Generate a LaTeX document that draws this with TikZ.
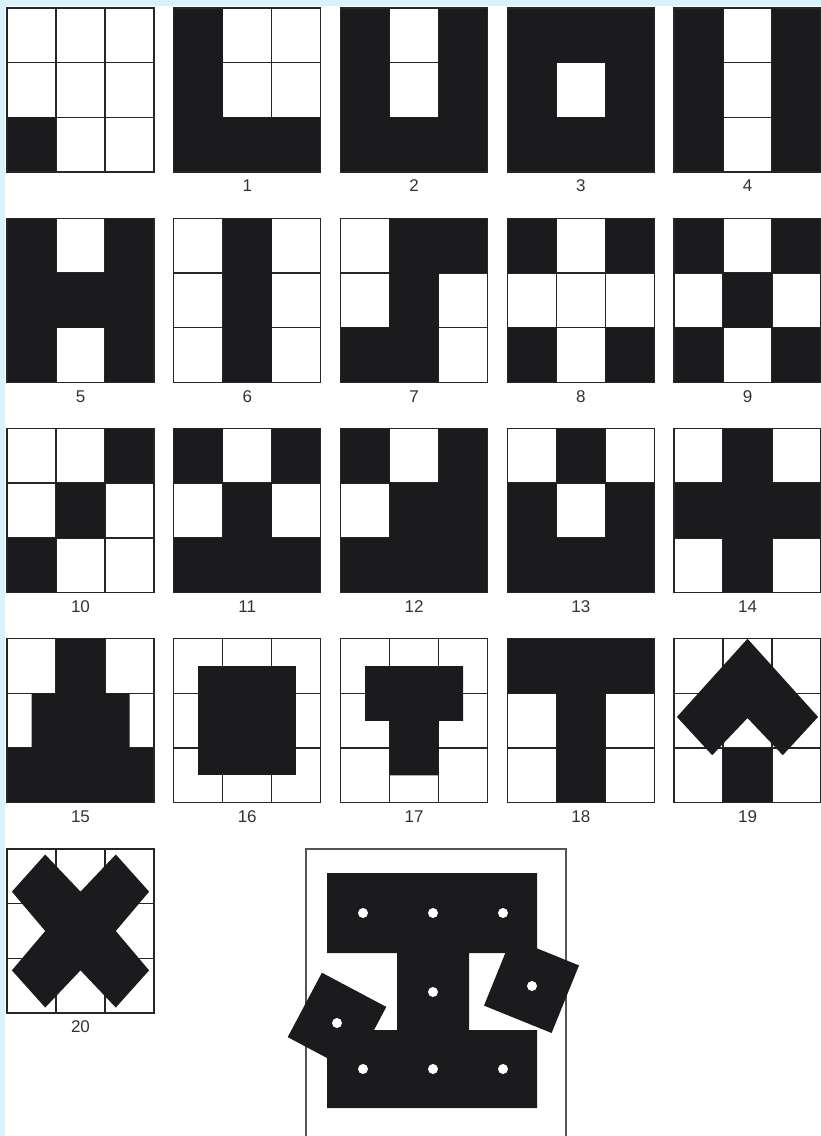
\documentclass[tikz,border=0pt]{standalone}
\usepackage{fontspec}
\setmainfont{Liberation Sans}
\definecolor{bgblue}{HTML}{DAF2F9}
\definecolor{blk}{HTML}{1B1A1C}
\definecolor{gline}{HTML}{262626}
\definecolor{labc}{HTML}{333333}
\definecolor{framec}{HTML}{555555}
\tikzset{
 gridl/.style={draw=gline, line width=1.4pt},
 blkfill/.style={fill=blk},
 lbl/.style={text=labc, font=\fontsize{17}{17}\selectfont, inner sep=0pt},
 framel/.style={draw=framec, line width=1.5pt},
 hole/.style={fill=white}
}
\newcommand{\tile}[4]{%
 \begin{scope}[shift={(#1,#2)}, x=49pt, y=-54.67pt]
 \fill[white] (0,0) rectangle (3,3);
 \foreach \k in {1,2}{\draw[gridl] (\k,0) -- (\k,3); \draw[gridl] (0,\k) -- (3,\k);}
 #4
 \draw[gridl] (0,0) rectangle (3,3);
 \coordinate (#3) at (1.5,3);
 \end{scope}}
\begin{document}
\begin{tikzpicture}[x=1pt,y=-1pt]
\useasboundingbox (0,0) rectangle (821,1136);
\fill[white] (0,0) rectangle (821,1136);
\fill[bgblue] (0,0) rectangle (821,6);
\fill[bgblue] (0,0) rectangle (5,1136);
% row 1
\tile{7}{8}{t0}{\fill[blkfill] (0,2) rectangle (1,3);}
\tile{173.75}{8}{t1}{\fill[blkfill] (0,0) rectangle (1,3) (1,2) rectangle (3,3);}
\tile{340.5}{8}{t2}{\fill[blkfill] (0,0) rectangle (1,3) (2,0) rectangle (3,3) (1,2) rectangle (2,3);}
\tile{507.25}{8}{t3}{\fill[blkfill, even odd rule] (0,0) rectangle (3,3) (1,1) rectangle (2,2);}
\tile{674}{8}{t4}{\fill[blkfill] (0,0) rectangle (1,3) (2,0) rectangle (3,3);}
% row 2
\tile{7}{218.25}{t5}{\fill[blkfill] (0,0) rectangle (1,3) (2,0) rectangle (3,3) (1,1) rectangle (2,2);}
\tile{173.75}{218.25}{t6}{\fill[blkfill] (1,0) rectangle (2,3);}
\tile{340.5}{218.25}{t7}{\fill[blkfill] (1,0) rectangle (3,1) (1,1) rectangle (2,2) (0,2) rectangle (2,3);}
\tile{507.25}{218.25}{t8}{\fill[blkfill] (0,0) rectangle (1,1) (2,0) rectangle (3,1) (0,2) rectangle (1,3) (2,2) rectangle (3,3);}
\tile{674}{218.25}{t9}{\fill[blkfill] (0,0) rectangle (1,1) (2,0) rectangle (3,1) (0,2) rectangle (1,3) (2,2) rectangle (3,3) (1,1) rectangle (2,2);}
% row 3
\tile{7}{428.5}{t10}{\fill[blkfill] (2,0) rectangle (3,1) (1,1) rectangle (2,2) (0,2) rectangle (1,3);}
\tile{173.75}{428.5}{t11}{\fill[blkfill] (0,0) rectangle (1,1) (2,0) rectangle (3,1) (1,1) rectangle (2,2) (0,2) rectangle (3,3);}
\tile{340.5}{428.5}{t12}{\fill[blkfill] (0,0) rectangle (1,1) (2,0) rectangle (3,3) (1,1) rectangle (2,3) (0,2) rectangle (1,3);}
\tile{507.25}{428.5}{t13}{\fill[blkfill] (1,0) rectangle (2,1) (0,1) rectangle (1,3) (2,1) rectangle (3,3) (1,2) rectangle (2,3);}
\tile{674}{428.5}{t14}{\fill[blkfill] (1,0) rectangle (2,3) (0,1) rectangle (3,2);}
% row 4
\tile{7}{638.75}{t15}{\fill[blkfill] (1,0) rectangle (2,2) (0.5,1) rectangle (2.5,2) (0,2) rectangle (3,3);}
\tile{173.75}{638.75}{t16}{\fill[blkfill] (0.5,0.5) rectangle (2.5,2.5);}
\tile{340.5}{638.75}{t17}{\fill[blkfill] (0.5,0.5) rectangle (2.5,1.5) (1,1.5) rectangle (2,2.5);}
\tile{507.25}{638.75}{t18}{\fill[blkfill] (0,0) rectangle (3,1) (1,1) rectangle (2,3);}
\tile{674}{638.75}{t19}{\fill[blkfill] (1.5,0) -- (0.06,1.43) -- (0.78,2.13) -- (1.5,1.45) -- (2.22,2.13) -- (2.94,1.43) -- cycle;
 \fill[blkfill] (1,2) rectangle (2,3);}
% row 5
\tile{7}{849}{t20}{\fill[blkfill] (0.78,0.1) -- (1.5,0.78) -- (2.22,0.1) -- (2.9,0.78) -- (2.22,1.5) -- (2.9,2.22) -- (2.22,2.9) -- (1.5,2.22) -- (0.78,2.9) -- (0.1,2.22) -- (0.78,1.5) -- (0.1,0.78) -- cycle;}
% labels
\foreach \n in {1,...,20}{\node[lbl] (lab\n) at ([yshift=-14pt]t\n) {\n};}
% big figure
\draw[framel] (306,1140) -- (306,849) -- (566,849) -- (566,1140);
\fill[blkfill] (327,873) -- (537,873) -- (537,953) -- (469,953) -- (469,1030) -- (537,1030) -- (537,1108) -- (327,1108) -- (327,1030) -- (397,1030) -- (397,953) -- (327,953) -- cycle;
\fill[blkfill] (321.9,972.7) -- (386.3,1006.9) -- (352.1,1071.3) -- (287.7,1037.1) -- cycle;
\fill[blkfill] (511.4,938) -- (579,965.4) -- (551.6,1033) -- (484,1005.6) -- cycle;
\foreach \p in {(363,913),(433,913),(503,913),(433,992),(363,1069),(433,1069),(503,1069),(337,1023),(532,986)}{\fill[hole] \p circle (5pt);}
\end{tikzpicture}
\end{document}
